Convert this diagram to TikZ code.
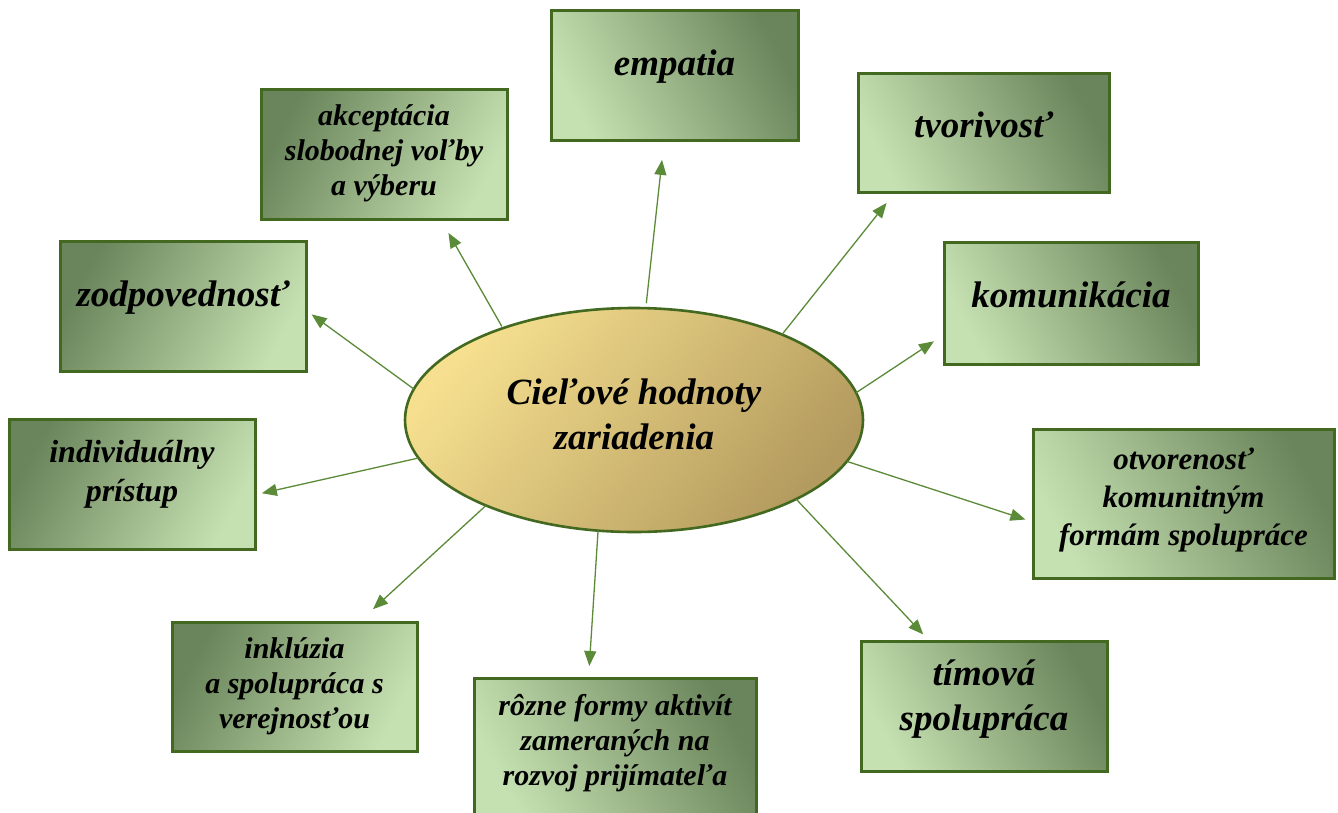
\documentclass[tikz,border=0pt]{standalone}
\usepackage{fontspec}
\setmainfont{Liberation Serif}
\usetikzlibrary{arrows.meta,shapes.geometric}
\definecolor{bdr}{HTML}{42691F}
\definecolor{dk}{HTML}{6A845B}
\definecolor{lt}{HTML}{C6E1B1}
\definecolor{ely}{HTML}{F6E08F}
\definecolor{eld}{HTML}{B39A5E}
\definecolor{arrc}{HTML}{5B8B39}
\tikzset{
 gbox/.style={draw=bdr, line width=3pt, rectangle, inner sep=0pt, outer sep=0pt},
 gl/.style={gbox, top color=dk, bottom color=lt, shading angle=62},
 gr/.style={gbox, top color=dk, bottom color=lt, shading angle=-62},
 bigt/.style={font=\fontsize{37}{45}\selectfont\bfseries\itshape, align=center, inner sep=0pt},
 smallt/.style={font=\fontsize{30}{35}\selectfont\bfseries\itshape, align=center, inner sep=0pt},
 link/.style={draw=arrc, line width=1.3pt, -{Triangle[length=15pt,width=12pt]}},
}
\begin{document}
\begin{tikzpicture}[x=1pt,y=-1pt]
\clip (0,0) rectangle (1338,812);
\fill[white] (0,0) rectangle (1338,812);
% boxes
\node[gr, minimum width=247pt, minimum height=130pt] (emp) at (674.5,75) {};
\node[bigt] (empt) at (674.5,67) {empatia};
\node[gl, minimum width=246pt, minimum height=130pt] (akc) at (384,154) {};
\node[smallt] (akct) at (384,153) {akceptácia\\slobodnej voľby\\a výberu};
\node[gr, minimum width=251pt, minimum height=119pt] (tvo) at (983.5,132.5) {};
\node[bigt] (tvot) at (983.5,125) {tvorivosť};
\node[gl, minimum width=246pt, minimum height=130pt] (zod) at (183,306) {};
\node[bigt] (zodt) at (183,298) {zodpovednosť};
\node[gr, minimum width=254pt, minimum height=122pt] (kom) at (1071,303) {};
\node[bigt] (komt) at (1071,295) {komunikácia};
\node[gl, minimum width=246pt, minimum height=130pt] (ind) at (132,484) {};
\node[smallt, font=\fontsize{32}{39}\selectfont\bfseries\itshape] (indt) at (132,474) {individuálny\\prístup};
\node[gr, minimum width=301pt, minimum height=149pt] (otv) at (1183.5,503.5) {};
\node[smallt, font=\fontsize{31}{38}\selectfont\bfseries\itshape] (otvt) at (1183.5,500) {otvorenosť\\komunitným\\formám spolupráce};
\node[gl, minimum width=245pt, minimum height=129pt] (ink) at (294.5,686.5) {};
\node[smallt] (inkt) at (294.5,686) {inklúzia\\a spolupráca s\\verejnosťou};
\node[gr, minimum width=282pt, minimum height=138pt] (roz) at (615,747) {};
\node[smallt] (rozt) at (615,743) {rôzne formy aktivít\\zameraných na\\rozvoj prijímateľa};
\node[gr, minimum width=246pt, minimum height=130pt] (tim) at (984,706) {};
\node[bigt] (timt) at (984,699) {tímová\\spolupráca};
% center
\node[ellipse, draw=bdr, line width=2.6pt, inner sep=0pt, outer sep=0pt,
  top color=ely, bottom color=eld, shading angle=50,
  minimum width=458pt, minimum height=224pt] (c) at (634,420) {};
\node[bigt] (ct) at (634,414) {Cieľové hodnoty\\zariadenia};
% links
\draw[link, shorten <=5pt, shorten >=20pt] (c.84) -- (emp.261);
\draw[link, shorten <=2pt, shorten >=16pt] (c.145) -- (akc.-49);
\draw[link, shorten >=14pt] (c.30) -- (tvo.214);
\draw[link, shorten >=7pt] (c.172) -- (zod.-2);
\draw[link, shorten >=12pt] (c.7) -- (kom.194);
\draw[link, shorten >=7pt] (c.190) -- (ind.-5);
\draw[link, shorten >=8pt] (c.-11) -- (otv.187);
\draw[link, shorten >=19pt] (c.210) -- (ink.45);
\draw[link, shorten >=12pt] (c.252) -- (roz.111);
\draw[link, shorten >=9pt] (c.-26) -- (tim.130);
\end{tikzpicture}
\end{document}
